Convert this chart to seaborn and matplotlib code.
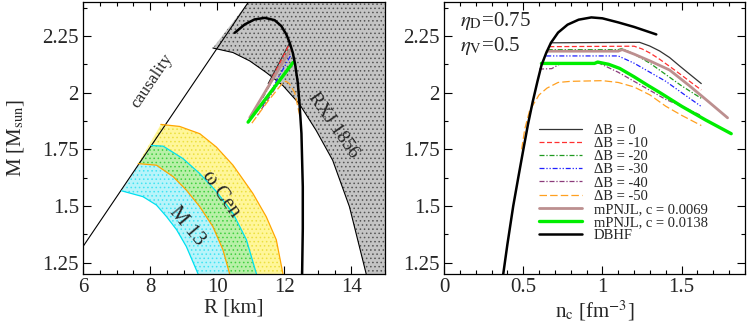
import matplotlib
matplotlib.use("Agg")
import matplotlib.pyplot as plt
import seaborn as sns
from matplotlib.ticker import MultipleLocator

sns.set_theme(style="ticks")
plt.rcParams['font.family'] = ['Liberation Serif', 'DejaVu Serif']
plt.rcParams['mathtext.fontset'] = 'stix'
plt.rcParams['hatch.linewidth'] = 0.6

# ---------------- left panel: mass-radius ----------------
caus_r = [6.0, 10.93]
caus_m = [1.321, 2.40]

rxj_r = [9.87, 10.47, 10.97, 11.46, 11.96, 12.45, 12.95, 13.44, 13.94, 14.44]
rxj_m = [2.197, 2.177, 2.14, 2.089, 2.031, 1.95, 1.833, 1.702, 1.497, 1.20]

m13_lo_r = [7.15, 7.79, 8.19, 8.49, 8.79, 9.08, 9.43]
m13_lo_m = [1.567, 1.541, 1.504, 1.453, 1.395, 1.321, 1.20]
m13_hi_r = [8.04, 8.39, 8.98, 9.48, 9.98, 10.47, 10.87, 11.17]
m13_hi_m = [1.767, 1.764, 1.709, 1.643, 1.563, 1.468, 1.351, 1.20]

cen_lo_r = [7.645, 8.19, 8.69, 9.08, 9.48, 9.87, 10.17, 10.37]
cen_lo_m = [1.687, 1.68, 1.629, 1.57, 1.497, 1.409, 1.307, 1.20]
cen_hi_r = [8.32, 8.88, 9.48, 9.975, 10.47, 11.06, 11.46, 11.76, 11.96]
cen_hi_m = [1.86, 1.851, 1.819, 1.76, 1.68, 1.556, 1.453, 1.351, 1.20]

dbhf_r = [10.52, 10.82, 11.11, 11.42, 11.71, 11.91, 12.06, 12.16, 12.25, 12.32, 12.40,
          12.45, 12.51, 12.55, 12.55, 12.53]
dbhf_mr = [2.264, 2.301, 2.323, 2.33, 2.32, 2.294, 2.257, 2.22, 2.177, 2.126, 2.045,
           1.957, 1.82, 1.585, 1.40, 1.20]

hyb_r = {
    'b0':   [12.16, 11.52],
    'b10':  [12.12, 11.45],
    'b20':  [12.15, 11.35],
    'b30':  [12.18, 11.35],
    'b40':  [12.22, 11.2],
    'c69':  [12.16, 10.97],
    'c138': [12.26, 10.92],
    'b50':  [12.46, 12.31, 12.15, 12.05, 11.96, 11.5, 11.02],
}
hyb_m = {
    'b0':   [2.22, 2.04],
    'b10':  [2.205, 2.01],
    'b20':  [2.19, 1.975],
    'b30':  [2.162, 1.94],
    'b40':  [2.13, 1.90],
    'c69':  [2.185, 1.89],
    'c138': [2.133, 1.87],
    'b50':  [1.899, 2.0, 2.04, 2.05, 2.045, 1.96, 1.863],
}

# ---------------- right panel: mass vs central density ----------------
dbhf_n = [0.374, 0.40, 0.437, 0.47, 0.50, 0.53, 0.56, 0.59, 0.615, 0.645, 0.675, 0.72,
          0.78, 0.85, 0.93, 1.0, 1.1, 1.2, 1.34]
dbhf_m = [1.20, 1.33, 1.50, 1.63, 1.746, 1.86, 1.96, 2.05, 2.12, 2.175, 2.22, 2.265,
          2.30, 2.322, 2.332, 2.328, 2.31, 2.29, 2.257]

nc = {
    'b0':   [0.675, 1.235, 1.298, 1.361, 1.424, 1.487, 1.55, 1.624],
    'b10':  [0.665, 1.20, 1.25, 1.30, 1.36, 1.42, 1.50, 1.56, 1.624],
    'b20':  [0.655, 1.10, 1.125, 1.20, 1.30, 1.40, 1.50, 1.624],
    'b30':  [0.645, 1.10, 1.20, 1.30, 1.40, 1.50, 1.624],
    'b40':  [0.60, 0.68, 0.74, 0.98, 1.10, 1.20, 1.30, 1.40, 1.50, 1.624],
    'b50':  [0.49, 0.51, 0.54, 0.60, 0.65, 0.72, 0.80, 1.00, 1.10, 1.20, 1.30, 1.40, 1.50, 1.624],
    'c69':  [0.65, 1.10, 1.125, 1.20, 1.30, 1.424, 1.55, 1.67, 1.79],
    'c138': [0.615, 0.95, 0.97, 1.04, 1.109, 1.20, 1.28, 1.361, 1.50, 1.65, 1.813],
}
mass = {
    'b0':   [2.22, 2.222, 2.206, 2.184, 2.155, 2.118, 2.082, 2.040],
    'b10':  [2.203, 2.205, 2.193, 2.175, 2.148, 2.118, 2.077, 2.045, 2.012],
    'b20':  [2.19, 2.19, 2.195, 2.17, 2.13, 2.08, 2.03, 1.975],
    'b30':  [2.162, 2.162, 2.13, 2.09, 2.05, 2.0, 1.939],
    'b40':  [2.104, 2.106, 2.13, 2.13, 2.09, 2.05, 2.01, 1.97, 1.94, 1.899],
    'b50':  [1.75, 1.84, 1.92, 1.99, 2.02, 2.045, 2.05, 2.053, 2.045, 2.025, 1.99, 1.94, 1.90, 1.855],
    'c69':  [2.183, 2.183, 2.19, 2.17, 2.14, 2.10, 2.03, 1.96, 1.889],
    'c138': [2.129, 2.129, 2.135, 2.125, 2.107, 2.07, 2.035, 2.001, 1.94, 1.88, 1.819],
}

keys = ['b0', 'b10', 'b20', 'b30', 'b40', 'b50', 'c69', 'c138']
labels = ['\u0394B = 0', '\u0394B = -10', '\u0394B = -20', '\u0394B = -30', '\u0394B = -40',
          '\u0394B = -50', 'mPNJL, c = 0.0069', 'mPNJL, c = 0.0138']
colors = ['#333333', '#ff3030', '#1f9a1f', '#1f1fff', '#8b3a7a', '#ffa020', '#bc8f8f', '#00ee00']
styles = ['-', (0, (4, 2)), (0, (4, 1.5, 1, 1.5)), (0, (4, 1.5, 1, 1.5, 1, 1.5)),
          (0, (4, 1.5, 1, 1.5)), (0, (6, 2.5)), '-', '-']
widths = [0.9, 0.9, 0.9, 0.9, 0.9, 0.9, 2.0, 2.4]

fig = plt.figure(figsize=(7.47, 3.32), dpi=100)
ax1 = fig.add_axes([83 / 747, 58 / 332, 302 / 747, 272 / 332])
ax2 = fig.add_axes([444 / 747, 58 / 332, 301 / 747, 272 / 332])

# RXJ 1856 excluded region
gray_r = [rxj_r[0], caus_r[1], 15.0, 15.0] + rxj_r[::-1]
gray_m = [rxj_m[0], caus_m[1], 2.4, 1.2] + rxj_m[::-1]
ax1.fill(gray_r, gray_m, facecolor='#c4c4c4', edgecolor='#555555', hatch='....', linewidth=0, zorder=1)

# globular cluster bands
ax1.fill(m13_hi_r + m13_lo_r[::-1], m13_hi_m + m13_lo_m[::-1], facecolor='#b8f4fa',
         edgecolor='#40e4f2', hatch='....', linewidth=0, zorder=1)
ax1.fill(cen_hi_r + cen_lo_r[::-1], cen_hi_m + cen_lo_m[::-1], facecolor='#fff69a',
         edgecolor='#ece040', hatch='....', linewidth=0, zorder=1)
ax1.fill(m13_hi_r + cen_lo_r[::-1], m13_hi_m + cen_lo_m[::-1], facecolor='#b8f0a8',
         edgecolor='#40d040', hatch='....', linewidth=0, zorder=1)

sns.lineplot(x=caus_r, y=caus_m, ax=ax1, color='black', lw=0.8, sort=False, estimator=None)
sns.lineplot(x=rxj_r, y=rxj_m, ax=ax1, color='black', lw=0.8, sort=False, estimator=None)
for r, m, c in [(m13_lo_r, m13_lo_m, '#00e0f0'), (m13_hi_r, m13_hi_m, '#00e0f0'),
                (cen_lo_r, cen_lo_m, '#ffa500'), (cen_hi_r, cen_hi_m, '#ffa500')]:
    sns.lineplot(x=r, y=m, ax=ax1, color=c, lw=0.9, sort=False, estimator=None)

for k, c, s, w in zip(keys, colors, styles, widths):
    sns.lineplot(x=hyb_r[k], y=hyb_m[k], ax=ax1, color=c, ls=s, lw=w, sort=False, estimator=None)
sns.lineplot(x=dbhf_r, y=dbhf_mr, ax=ax1, color='black', lw=1.8, sort=False, estimator=None)

ax1.text(8.05, 2.05, 'causality', rotation=56, fontsize=12.5, ha='center', va='center')
ax1.text(10.12, 1.555, '\u03c9 Cen', rotation=-55, fontsize=15, ha='center', va='center')
ax1.text(9.08, 1.41, 'M 13', rotation=-50, fontsize=15, ha='center', va='center')
ax1.text(13.45, 1.855, 'RXJ 1856', rotation=-55, fontsize=13.5, ha='center', va='center')

ax1.set_xlim(6, 15)
ax1.set_ylim(1.2, 2.4)
ax1.set_xticks([6, 8, 10, 12, 14])
ax1.xaxis.set_minor_locator(MultipleLocator(0.5))
ax1.set_xlabel('R [km]', fontsize=15, labelpad=1)
ax1.set_ylabel('M [M$_{\\rm sun}$]', fontsize=15)
ax1.yaxis.set_label_coords(-0.19, 0.5)

# right panel
for k, lab, c, s, w in zip(keys, labels, colors, styles, widths):
    sns.lineplot(x=nc[k], y=mass[k], ax=ax2, color=c, ls=s, lw=w, sort=False,
                 estimator=None, label=lab)
sns.lineplot(x=dbhf_n, y=dbhf_m, ax=ax2, color='black', lw=1.8, sort=False,
             estimator=None, label='DBHF')

ax2.text(0.1, 2.315, '$\\eta_{\\rm D}$=0.75', fontsize=15, va='center')
ax2.text(0.1, 2.205, '$\\eta_{\\rm V}$=0.5', fontsize=15, va='center')

ax2.set_xlim(0, 1.9)
ax2.set_ylim(1.2, 2.4)
ax2.set_xticks([0, 0.5, 1, 1.5])
ax2.set_xticklabels(['0', '0.5', '1', '1.5'])
ax2.xaxis.set_minor_locator(MultipleLocator(0.1))
ax2.set_xlabel('n$_{\\rm c}$ [fm$^{-3}$]', fontsize=15, labelpad=1)
ax2.set_ylabel('')
ax2.legend(loc='upper left', bbox_to_anchor=(0.29, 0.58), frameon=False, fontsize=10.5,
           handlelength=3.0, labelspacing=0.0, handletextpad=0.8, borderpad=0)

for ax in (ax1, ax2):
    ax.set_yticks([1.25, 1.5, 1.75, 2, 2.25])
    ax.set_yticklabels(['1.25', '1.5', '1.75', '2', '2.25'])
    ax.yaxis.set_minor_locator(MultipleLocator(0.125))
    ax.tick_params(which='both', direction='in', top=True, right=True, labelsize=15,
                   width=0.8, color='black', pad=3)
    ax.tick_params(which='major', length=6)
    ax.tick_params(which='minor', length=3)
    for sp in ax.spines.values():
        sp.set_linewidth(0.9)
        sp.set_color('black')
        sp.set_zorder(5)

fig.savefig('out.png', dpi=100)
